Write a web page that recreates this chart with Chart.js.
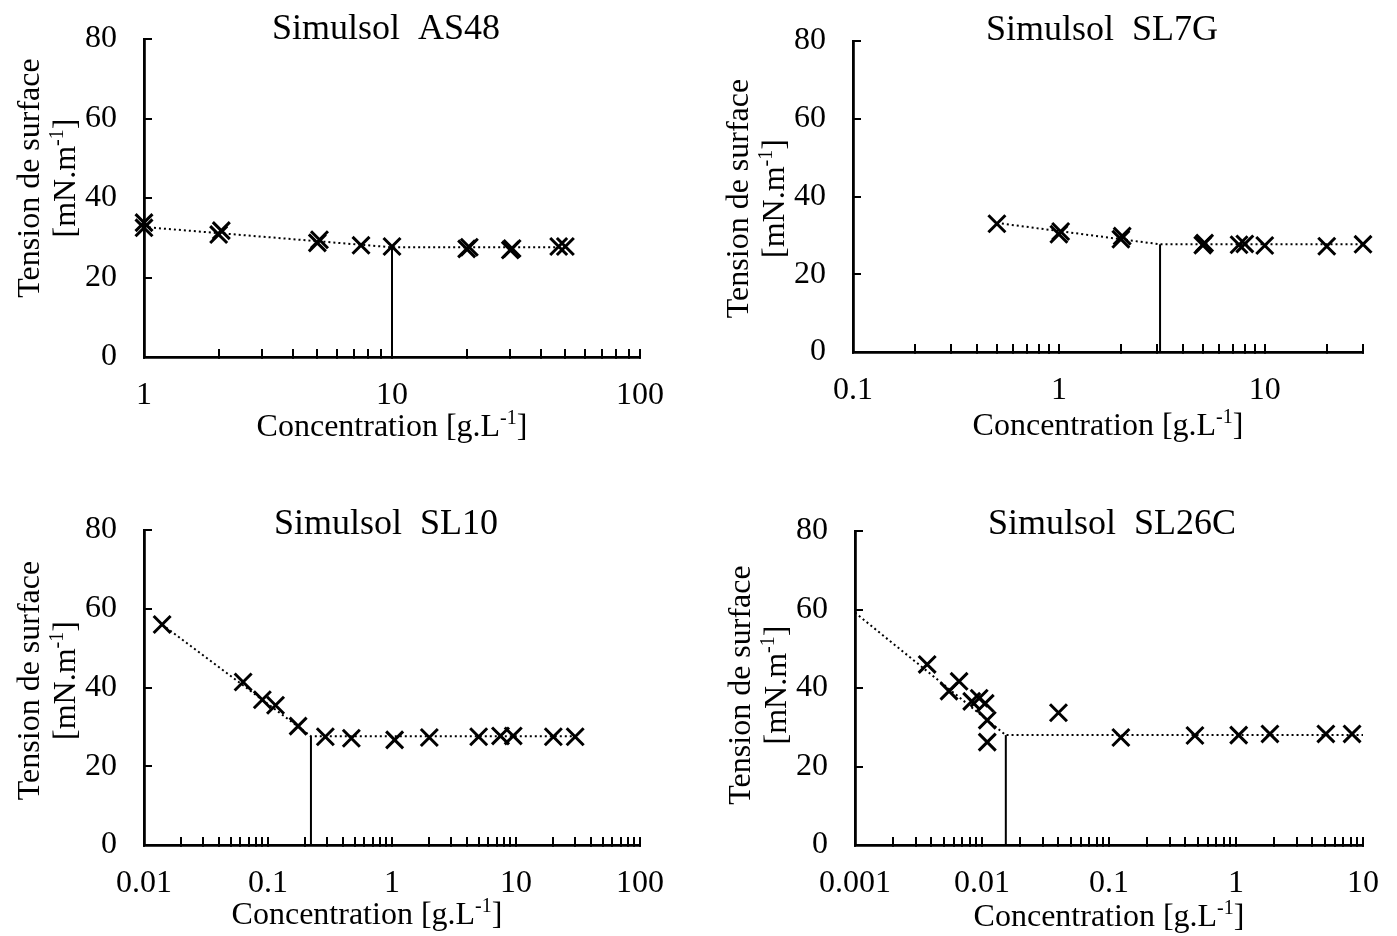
<!DOCTYPE html>
<html>
<head>
<meta charset="utf-8">
<script src="https://cdn.jsdelivr.net/npm/chart.js@4.4.1/dist/chart.umd.min.js"></script>
<style>
  html, body { margin: 0; padding: 0; background: #fff; }
  #wrap { position: relative; width: 1397px; height: 936px; }
  canvas { position: absolute; }
</style>
</head>
<body>
<div id="wrap">
  <canvas id="c1" width="698" height="468" style="left:0;top:0"></canvas>
  <canvas id="c2" width="698" height="468" style="left:699px;top:0"></canvas>
  <canvas id="c3" width="698" height="468" style="left:0;top:468px"></canvas>
  <canvas id="c4" width="698" height="468" style="left:699px;top:468px"></canvas>
</div>
<script>
// ---- data (concentration in g/L, surface tension in mN/m) ----
const as48Conc = [1, 1, 2, 2.05, 5, 5.1, 7.5, 10, 20, 20.5, 30, 30.5, 47, 50];
const as48Tension = [32.5, 33.8, 30.8, 31.8, 28.7, 29.5, 28.1, 27.8, 27.2, 27.6, 26.9, 27.3, 27.8, 27.8];
const as48FitConc = [1, 10, 50];
const as48FitTension = [32.7, 27.6, 27.6];
const as48Cmc = 10;

const sl7gConc = [0.5, 1, 1.02, 2, 2.03, 5, 5.1, 7.5, 8, 10, 20, 30];
const sl7gTension = [33.0, 30.3, 31.0, 29.0, 29.8, 27.5, 28.0, 27.6, 27.8, 27.4, 27.2, 27.7];
const sl7gFitConc = [0.5, 3.1, 30];
const sl7gFitTension = [33.2, 27.7, 27.7];
const sl7gCmc = 3.1;

const sl10Conc = [0.014, 0.063, 0.09, 0.115, 0.175, 0.29, 0.47, 1.05, 2, 5, 7.5, 9.5, 20, 30];
const sl10Tension = [56.0, 41.4, 36.9, 35.5, 30.2, 27.5, 27.1, 26.7, 27.3, 27.5, 27.7, 27.7, 27.5, 27.5];
const sl10FitConc = [0.014, 0.222, 30];
const sl10FitTension = [56.0, 27.6, 27.6];
const sl10Cmc = 0.222;

const sl26cConc = [0.0037, 0.0055, 0.0066, 0.0083, 0.0095, 0.0106, 0.011, 0.011, 0.04, 0.124, 0.475, 1.05, 1.85, 5.1, 8.2];
const sl26cTension = [46.0, 39.2, 41.7, 36.6, 37.4, 36.1, 31.8, 26.2, 33.7, 27.4, 27.9, 28.0, 28.3, 28.3, 28.3];
const sl26cFitConc = [0.001, 0.0154, 10];
const sl26cFitTension = [59.2, 28.0, 28.0];
const sl26cCmc = 0.0154;

const yTicks = [0, 20, 40, 60, 80];
const as48Majors = [1, 10, 100];
const as48Labels = ['1', '10', '100'];
const sl7gMajors = [0.1, 1, 10];
const sl7gLabels = ['0.1', '1', '10'];
const sl10Majors = [0.01, 0.1, 1, 10, 100];
const sl10Labels = ['0.01', '0.1', '1', '10', '100'];
const sl26cMajors = [0.001, 0.01, 0.1, 1, 10];
const sl26cLabels = ['0.001', '0.01', '0.1', '1', '10'];

const yTitle = ['Tension de surface', '[mN.m^{-1}]'];
const xTitle = 'Concentration [g.L^{-1}]';

// ---- drawing helpers ----
const serif = '"Liberation Serif", "Times New Roman", serif';

function richParts(str) {
  const out = [];
  str.split(/(\^\{[^}]*\})/).forEach(s => {
    if (!s) return;
    if (s.startsWith('^{')) out.push({ t: s.slice(2, -1), sup: true });
    else out.push({ t: s, sup: false });
  });
  return out;
}

function drawRich(ctx, str, cx, cy, size) {
  const parts = richParts(str);
  const f = p => (p.sup ? Math.round(size * 0.62) : size) + 'px ' + serif;
  let w = 0;
  parts.forEach(p => { ctx.font = f(p); w += ctx.measureText(p.t).width; });
  let x = cx - w / 2;
  const base = cy + size * 0.33;
  parts.forEach(p => {
    ctx.font = f(p);
    ctx.fillText(p.t, x, p.sup ? base - size * 0.36 : base);
    x += ctx.measureText(p.t).width;
  });
}

// titles with superscripts, drawn around the chart area
const panelText = {
  id: 'panelText',
  afterDraw(chart, args, o) {
    const { ctx, chartArea: a } = chart;
    ctx.save();
    ctx.fillStyle = '#000';
    ctx.textAlign = 'left';
    ctx.textBaseline = 'alphabetic';
    const mid = (a.left + a.right) / 2;
    drawRich(ctx, o.title, mid + o.titleDx, a.top + o.titleDy, 36);
    drawRich(ctx, xTitle, mid + o.xTitleDx, a.bottom + o.xTitleDy, 32);
    const cy = (a.top + a.bottom) / 2 + o.yTitleDy;
    yTitle.forEach((line, i) => {
      ctx.save();
      ctx.translate(a.left - [116, 80][i], cy);
      ctx.rotate(-Math.PI / 2);
      drawRich(ctx, line, 0, 0, 32);
      ctx.restore();
    });
    ctx.restore();
  }
};

function logTicks(majors, max) {
  const list = [];
  majors.forEach(d => {
    for (let m = 1; m <= 9; m++) {
      const v = +(m * d).toPrecision(6);
      if (v <= max * 1.0001) list.push(v);
    }
  });
  return list;
}

function pts(xs, ys) {
  return xs.map((x, i) => ({ x: x, y: ys[i] }));
}

function makeChart(id, p) {
  const tickVals = logTicks(p.majors, p.xMax);
  new Chart(document.getElementById(id), {
    type: 'scatter',
    data: {
      datasets: [
        {
          data: pts(p.conc, p.tension),
          pointStyle: 'crossRot', pointRadius: 12, pointBorderWidth: 3,
          borderColor: '#000', backgroundColor: '#000', showLine: false, order: 0, clip: false
        },
        {
          data: pts(p.fitConc, p.fitTension),
          showLine: true, borderColor: '#000', borderWidth: 2, borderDash: [2, 3],
          pointRadius: 0, order: 1, clip: false
        },
        {
          data: [{ x: p.cmc, y: 0 }, { x: p.cmc, y: p.fitTension[1] }],
          showLine: true, borderColor: '#000', borderWidth: 2, pointRadius: 0, order: 2
        }
      ]
    },
    options: {
      responsive: false,
      animation: false,
      events: [],
      layout: { padding: { left: 0, top: p.pad.top, right: p.pad.right, bottom: 0 } },
      plugins: {
        legend: { display: false },
        tooltip: { enabled: false },
        panelText: p.text
      },
      scales: {
        x: {
          type: 'logarithmic',
          min: p.majors[0],
          max: p.xMax,
          afterBuildTicks: s => { s.ticks = tickVals.map(v => ({ value: v })); },
          afterFit: s => { s.height = p.pad.bottom; s.paddingLeft = 0; s.paddingRight = 0; },
          ticks: {
            autoSkip: false, maxRotation: 0, padding: 27,
            font: { family: serif, size: 32 }, color: '#000',
            callback: v => {
              const i = p.majors.findIndex(m => Math.abs(m - v) / m < 1e-6);
              return i >= 0 ? p.labels[i] : '';
            }
          },
          grid: { drawOnChartArea: false, color: '#000', lineWidth: 2, tickLength: -8 },
          border: { color: '#000', width: 2.8 }
        },
        y: {
          min: 0,
          max: 80,
          afterBuildTicks: s => { s.ticks = yTicks.map(v => ({ value: v })); },
          afterFit: s => { s.width = p.pad.left; s.paddingTop = 0; s.paddingBottom = 0; },
          ticks: { padding: 35, font: { family: serif, size: 32 }, color: '#000' },
          grid: { drawOnChartArea: false, color: '#000', lineWidth: 2, tickLength: -8 },
          border: { color: '#000', width: 2.8 }
        }
      }
    },
    plugins: [panelText]
  });
}

makeChart('c1', {
  conc: as48Conc, tension: as48Tension, fitConc: as48FitConc, fitTension: as48FitTension, cmc: as48Cmc,
  majors: as48Majors, labels: as48Labels, xMax: 100,
  pad: { left: 144, top: 39, right: 58, bottom: 111 },
  text: { title: 'Simulsol  AS48', titleDx: -6, titleDy: -12, xTitleDx: 0, xTitleDy: 68, yTitleDy: -20 }
});
makeChart('c2', {
  conc: sl7gConc, tension: sl7gTension, fitConc: sl7gFitConc, fitTension: sl7gFitTension, cmc: sl7gCmc,
  majors: sl7gMajors, labels: sl7gLabels, xMax: 30,
  pad: { left: 154, top: 41, right: 34, bottom: 116 },
  text: { title: 'Simulsol  SL7G', titleDx: -6, titleDy: -13, xTitleDx: 0, xTitleDy: 72, yTitleDy: 2 }
});
makeChart('c3', {
  conc: sl10Conc, tension: sl10Tension, fitConc: sl10FitConc, fitTension: sl10FitTension, cmc: sl10Cmc,
  majors: sl10Majors, labels: sl10Labels, xMax: 100,
  pad: { left: 144, top: 62, right: 58, bottom: 91 },
  text: { title: 'Simulsol  SL10', titleDx: -6, titleDy: -8, xTitleDx: -25, xTitleDy: 68, yTitleDy: -7 }
});
makeChart('c4', {
  conc: sl26cConc, tension: sl26cTension, fitConc: sl26cFitConc, fitTension: sl26cFitTension, cmc: sl26cCmc,
  majors: sl26cMajors, labels: sl26cLabels, xMax: 10,
  pad: { left: 156, top: 63, right: 34, bottom: 91 },
  text: { title: 'Simulsol  SL26C', titleDx: 3, titleDy: -9, xTitleDx: 0, xTitleDy: 70, yTitleDy: -3 }
});
</script>
</body>
</html>
